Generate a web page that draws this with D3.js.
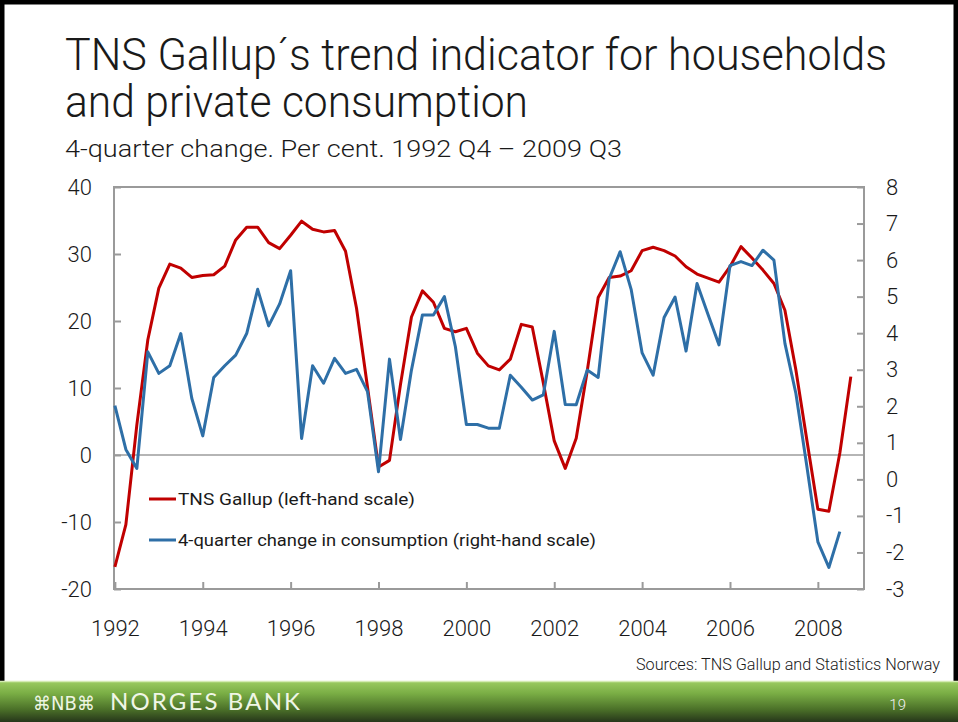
<!DOCTYPE html>
<html lang="en">
<head>
    <meta charset="UTF-8">
    <title>TNS Gallup trend indicator</title>
    <script src="https://cdn.jsdelivr.net/npm/d3@7"></script>
    <style>
        body { margin: 0; background: #fff; }
        svg { display: block; }
        text { fill: #1a1a1a; }
    </style>
</head>
<body>
<svg width="958" height="722"></svg>
<script>
    // TNS Gallup trend indicator, left scale (1992 Q4 - 2009 Q3)
    var tnsGallup = [-16.7, -10.4, 4.5, 17.2, 24.9, 28.5, 27.9, 26.5, 26.8, 26.9,
        28.2, 32.1, 34.0, 34.0, 31.7, 30.8, 32.8, 34.9, 33.7, 33.3,
        33.5, 30.4, 21.9, 10.1, -1.8, -0.8, 10.5, 20.6, 24.5, 22.8,
        18.9, 18.4, 18.9, 15.2, 13.3, 12.7, 14.3, 19.5, 19.1, 10.8,
        2.1, -2.0, 2.5, 12.5, 23.5, 26.5, 26.7, 27.5, 30.5, 31.0,
        30.5, 29.7, 28.1, 27.0, 26.4, 25.8, 28.1, 31.1, 29.4, 27.6,
        25.6, 21.6, 12.7, 2.2, -8.1, -8.4, 0.3, 11.7];

    // 4-quarter change in consumption, right scale
    var consumption = [2.02, 0.82, 0.30, 3.49, 2.90, 3.11, 3.99, 2.22, 1.19, 2.79,
        3.11, 3.40, 3.99, 5.20, 4.20, 4.80, 5.71, 1.12, 3.11, 2.63,
        3.31, 2.90, 3.01, 2.40, 0.21, 3.29, 1.09, 2.99, 4.50, 4.50,
        5.00, 3.63, 1.50, 1.50, 1.40, 1.40, 2.85, 2.52, 2.17, 2.31,
        4.05, 2.05, 2.04, 2.99, 2.79, 5.49, 6.23, 5.20, 3.46, 2.85,
        4.43, 4.99, 3.51, 5.36, 4.51, 3.68, 5.85, 5.96, 5.85, 6.27,
        6.00, 3.72, 2.35, 0.35, -1.71, -2.41, -1.43];

    var yearTicks = [1992, 1994, 1996, 1998, 2000, 2002, 2004, 2006, 2008];
    var leftTicks = [-20, -10, 0, 10, 20, 30, 40];
    var rightTicks = [-3, -2, -1, 0, 1, 2, 3, 4, 5, 6, 7, 8];
    var seriesNames = ["TNS Gallup (left-hand scale)", "4-quarter change in consumption (right-hand scale)"];
    var colors = ["#c00000", "#2e6fa7"];

    var svg = d3.select("svg");
    var plot = {left: 114, right: 864, top: 187, bottom: 589};

    var x = d3.scaleLinear().domain([1991.98, 2009.05]).range([plot.left, plot.right]);
    var yL = d3.scaleLinear().domain([-20, 40]).range([plot.bottom, plot.top]);
    var yR = d3.scaleLinear().domain([-3, 8]).range([plot.bottom, plot.top]);

    // plain hyphen for negatives, like the slide
    var fmt = function (d) { return String(d); };

    // frame
    svg.append("rect")
        .attr("x", 2).attr("y", 2)
        .attr("width", 954).attr("height", 730)
        .attr("fill", "none").attr("stroke", "#000").attr("stroke-width", 5);

    // footer bar
    var defs = svg.append("defs");
    var grad = defs.append("linearGradient").attr("id", "foot")
        .attr("x1", 0).attr("y1", 0).attr("x2", 0).attr("y2", 1);
    grad.append("stop").attr("offset", "0%").attr("stop-color", "#9ccc62");
    grad.append("stop").attr("offset", "30%").attr("stop-color", "#7aae45");
    grad.append("stop").attr("offset", "70%").attr("stop-color", "#4a6f28");
    grad.append("stop").attr("offset", "100%").attr("stop-color", "#26361a");
    svg.append("rect").attr("x", 0).attr("y", 681).attr("width", 958).attr("height", 41)
        .attr("fill", "url(#foot)");
    svg.append("line").attr("x1", 0).attr("x2", 958).attr("y1", 681.5).attr("y2", 681.5)
        .attr("stroke", "#d4ebb3").attr("stroke-width", 1.5);

    svg.append("text").attr("x", 33).attr("y", 710)
        .attr("textLength", 62).attr("lengthAdjust", "spacingAndGlyphs")
        .style("font-family", "DejaVu Sans").style("font-size", "19px")
        .style("fill", "#eef5e2")
        .text("⌘NB⌘");
    svg.append("text").attr("x", 110).attr("y", 710)
        .attr("textLength", 190).attr("lengthAdjust", "spacing")
        .style("font-family", "Lato").style("font-size", "24px")
        .style("fill", "#f0f6e6")
        .text("NORGES BANK");
    svg.append("text").attr("x", 906).attr("y", 710).attr("text-anchor", "end")
        .style("font-family", "Roboto").style("font-weight", 300).style("font-size", "15px")
        .style("fill", "#f2f2f2")
        .text("19");

    // titles
    svg.append("text").attr("x", 65).attr("y", 70)
        .attr("textLength", 822).attr("lengthAdjust", "spacingAndGlyphs")
        .style("font-family", "Roboto").style("font-weight", 300).style("font-size", "45px")
        .text("TNS Gallup´s trend indicator for households");
    svg.append("text").attr("x", 65).attr("y", 117)
        .attr("textLength", 463).attr("lengthAdjust", "spacingAndGlyphs")
        .style("font-family", "Roboto").style("font-weight", 300).style("font-size", "45px")
        .text("and private consumption");
    svg.append("text").attr("x", 65).attr("y", 157)
        .attr("textLength", 557).attr("lengthAdjust", "spacingAndGlyphs")
        .style("font-family", "Roboto").style("font-weight", 300).style("font-size", "24px")
        .text("4-quarter change. Per cent. 1992 Q4 \u2013 2009 Q3");

    svg.append("text").attr("x", 940).attr("y", 670).attr("text-anchor", "end")
        .attr("textLength", 304).attr("lengthAdjust", "spacingAndGlyphs")
        .style("font-family", "Roboto").style("font-weight", 300).style("font-size", "17px")
        .text("Sources: TNS Gallup and Statistics Norway");

    // zero line on left scale
    svg.append("line")
        .attr("x1", plot.left).attr("x2", plot.right)
        .attr("y1", yL(0)).attr("y2", yL(0))
        .attr("stroke", "#b5b5b5").attr("stroke-width", 2);

    // axes
    var axisFont = function (g) {
        g.select(".domain").remove();
        g.selectAll(".tick line").attr("stroke", "#9a9a9a").attr("stroke-width", 2);
        g.selectAll("text").style("font-family", "Roboto").style("font-weight", 300)
            .style("font-size", "22px").style("fill", "#1a1a1a");
    };

    svg.append("g").attr("transform", "translate(" + plot.left + ",0)")
        .call(d3.axisLeft(yL).tickValues(leftTicks).tickFormat(fmt).tickSize(-7).tickPadding(22))
        .call(axisFont);
    svg.append("g").attr("transform", "translate(" + plot.right + ",0)")
        .call(d3.axisRight(yR).tickValues(rightTicks).tickFormat(fmt).tickSize(-7).tickPadding(22))
        .call(axisFont);
    svg.append("g").attr("transform", "translate(0," + plot.bottom + ")")
        .call(d3.axisBottom(x).tickValues(yearTicks).tickFormat(fmt).tickSize(-7).tickPadding(31))
        .call(axisFont);

    svg.append("rect")
        .attr("x", plot.left).attr("y", plot.top)
        .attr("width", plot.right - plot.left).attr("height", plot.bottom - plot.top)
        .attr("fill", "none").attr("stroke", "#9a9a9a").attr("stroke-width", 2);

    // lines
    var lineL = d3.line()
        .x(function (d, i) { return x(1992 + i / 4); })
        .y(function (d) { return yL(d); });
    var lineR = d3.line()
        .x(function (d, i) { return x(1992 + i / 4); })
        .y(function (d) { return yR(d); });

    svg.append("path").datum(tnsGallup)
        .attr("d", lineL)
        .attr("fill", "none").attr("stroke", colors[0]).attr("stroke-width", 3)
        .attr("stroke-linejoin", "round");
    svg.append("path").datum(consumption)
        .attr("d", lineR)
        .attr("fill", "none").attr("stroke", colors[1]).attr("stroke-width", 3)
        .attr("stroke-linejoin", "round");

    // legend
    var legend = svg.append("g").attr("transform", "translate(149,499)");
    var legendWidths = [237, 418];
    seriesNames.forEach(function (name, k) {
        var row = legend.append("g").attr("transform", "translate(0," + (k * 41) + ")");
        row.append("line").attr("x1", 0).attr("x2", 27).attr("y1", 0).attr("y2", 0)
            .attr("stroke", colors[k]).attr("stroke-width", 3);
        row.append("text").attr("x", 29).attr("y", 6)
            .attr("textLength", legendWidths[k]).attr("lengthAdjust", "spacingAndGlyphs")
            .style("font-family", "Roboto").style("font-size", "17px")
            .text(name);
    });
</script>
</body>
</html>
